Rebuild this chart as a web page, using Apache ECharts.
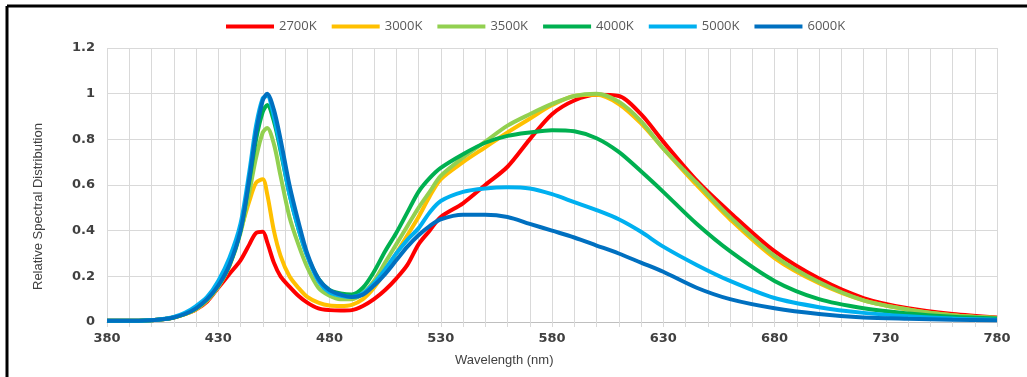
<!DOCTYPE html>
<html>
<head>
<meta charset="utf-8">
<script src="https://cdn.jsdelivr.net/npm/echarts@6/dist/echarts.min.js"></script>
<style>
  html, body { margin: 0; padding: 0; background: #fff; }
  #chart { width: 1027px; height: 377px; }
</style>
</head>
<body>
<div id="chart"></div>
<script>
// wavelength samples (nm)
var wavelengths = [380,390,400,405,410,415,420,425,430,435,440,444,447,450,452,455,458,462,466,470,475,480,485,490,495,500,505,510,515,520,525,530,540,550,560,570,580,590,600,610,620,630,645,660,680,700,720,740,760,780];

// relative spectral distribution per CCT
var cct2700 = [0.005,0.005,0.008,0.012,0.02,0.034,0.055,0.09,0.15,0.21,0.27,0.34,0.39,0.395,0.35,0.26,0.2,0.155,0.115,0.085,0.06,0.052,0.05,0.052,0.07,0.1,0.14,0.19,0.25,0.34,0.4,0.46,0.52,0.6,0.68,0.8,0.91,0.97,0.995,0.99,0.91,0.79,0.62,0.48,0.31,0.19,0.105,0.06,0.035,0.02];
var cct3000 = [0.005,0.005,0.008,0.012,0.02,0.034,0.056,0.095,0.155,0.245,0.4,0.53,0.61,0.625,0.56,0.4,0.29,0.2,0.15,0.11,0.085,0.072,0.07,0.075,0.1,0.15,0.22,0.3,0.38,0.46,0.55,0.625,0.7,0.765,0.83,0.89,0.95,0.99,0.995,0.955,0.87,0.76,0.6,0.45,0.28,0.17,0.095,0.055,0.03,0.018];
var cct3500 = [0.005,0.005,0.008,0.012,0.02,0.034,0.057,0.095,0.155,0.245,0.39,0.57,0.72,0.83,0.85,0.78,0.64,0.46,0.34,0.24,0.15,0.115,0.1,0.1,0.125,0.18,0.26,0.34,0.42,0.5,0.57,0.64,0.72,0.79,0.86,0.91,0.955,0.99,1.0,0.965,0.88,0.76,0.61,0.46,0.29,0.175,0.095,0.055,0.03,0.018];
var cct4000 = [0.005,0.005,0.008,0.012,0.02,0.035,0.06,0.1,0.16,0.25,0.4,0.62,0.8,0.92,0.95,0.88,0.75,0.56,0.41,0.29,0.19,0.14,0.125,0.12,0.15,0.22,0.31,0.39,0.48,0.57,0.63,0.675,0.735,0.785,0.815,0.83,0.84,0.835,0.805,0.745,0.66,0.57,0.43,0.31,0.18,0.1,0.06,0.037,0.023,0.015];
var cct5000 = [0.005,0.005,0.008,0.013,0.022,0.04,0.07,0.11,0.18,0.28,0.43,0.66,0.86,0.98,0.99,0.9,0.76,0.56,0.41,0.29,0.18,0.13,0.115,0.11,0.125,0.17,0.23,0.3,0.36,0.41,0.48,0.53,0.57,0.585,0.59,0.585,0.56,0.525,0.49,0.45,0.395,0.33,0.25,0.18,0.105,0.065,0.04,0.025,0.015,0.01];
var cct6000 = [0.005,0.005,0.008,0.012,0.02,0.035,0.06,0.1,0.16,0.25,0.4,0.63,0.83,0.97,1.0,0.93,0.8,0.6,0.44,0.3,0.19,0.14,0.12,0.11,0.12,0.16,0.21,0.27,0.33,0.38,0.42,0.45,0.47,0.47,0.46,0.43,0.4,0.37,0.335,0.3,0.26,0.22,0.15,0.1,0.06,0.035,0.02,0.014,0.01,0.008];

var seriesNames = ["2700K","3000K","3500K","4000K","5000K","6000K"];
var seriesColors = ["#ff0000","#ffc000","#92d050","#00b050","#00b0f0","#0070c0"];
var seriesValues = [cct2700,cct3000,cct3500,cct4000,cct5000,cct6000];

var myChart = echarts.init(document.getElementById("chart"));

var series = seriesNames.map(function(name, i) {
  return {
    name: name,
    type: "line",
    smooth: 0.3,
    showSymbol: false,
    lineStyle: { width: 4, color: seriesColors[i] },
    itemStyle: { color: seriesColors[i] },
    data: wavelengths.map(function(w, k) { return [w, seriesValues[i][k]]; })
  };
});

var option = {
  backgroundColor: "#fff",
  animation: false,
  legend: {
    top: 15,
    left: 221,
    itemWidth: 48,
    itemHeight: 4,
    itemGap: 15,
    icon: "rect",
    textStyle: { fontFamily: "Open Sans", fontSize: 13, color: "#595959" },
    data: seriesNames
  },
  grid: { left: 107, right: 30, top: 48, bottom: 55 },
  xAxis: {
    type: "value",
    min: 380,
    max: 780,
    interval: 10,
    axisLine: { lineStyle: { color: "#bfbfbf" } },
    axisTick: { show: true, length: 5, lineStyle: { color: "#d9d9d9" } },
    splitLine: { show: true, lineStyle: { color: "#d9d9d9", width: 1 } },
    axisLabel: {
      margin: 10,
      fontFamily: "DejaVu Sans",
      fontWeight: "bold",
      fontSize: 13,
      color: "#404040",
      formatter: function(v) { return (v - 380) % 50 === 0 ? String(v) : ""; }
    }
  },
  yAxis: {
    type: "value",
    min: 0,
    max: 1.2,
    interval: 0.2,
    axisLine: { show: false },
    axisTick: { show: false },
    splitLine: { lineStyle: { color: "#d9d9d9", width: 1 } },
    axisLabel: {
      margin: 12,
      fontFamily: "DejaVu Sans",
      fontWeight: "bold",
      fontSize: 13,
      color: "#404040"
    }
  },
  graphic: [
    // outer frame (left + top)
    { type: "line", shape: { x1: 7, y1: 6, x2: 7, y2: 377 }, style: { stroke: "#000", lineWidth: 3 } },
    { type: "line", shape: { x1: 7, y1: 6, x2: 1027, y2: 6 }, style: { stroke: "#000", lineWidth: 3 } },
    {
      type: "text", left: 455, top: 354,
      style: { text: "Wavelength (nm)", font: "13px 'Liberation Sans'", fill: "#404040" }
    },
    {
      type: "text", x: 32, y: 290, rotation: Math.PI / 2,
      style: { text: "Relative Spectral Distribution", font: "13px 'Liberation Sans'", fill: "#404040" }
    }
  ],
  series: series
};

myChart.setOption(option);
window.addEventListener("resize", function() { myChart.resize(); });
</script>
</body>
</html>
